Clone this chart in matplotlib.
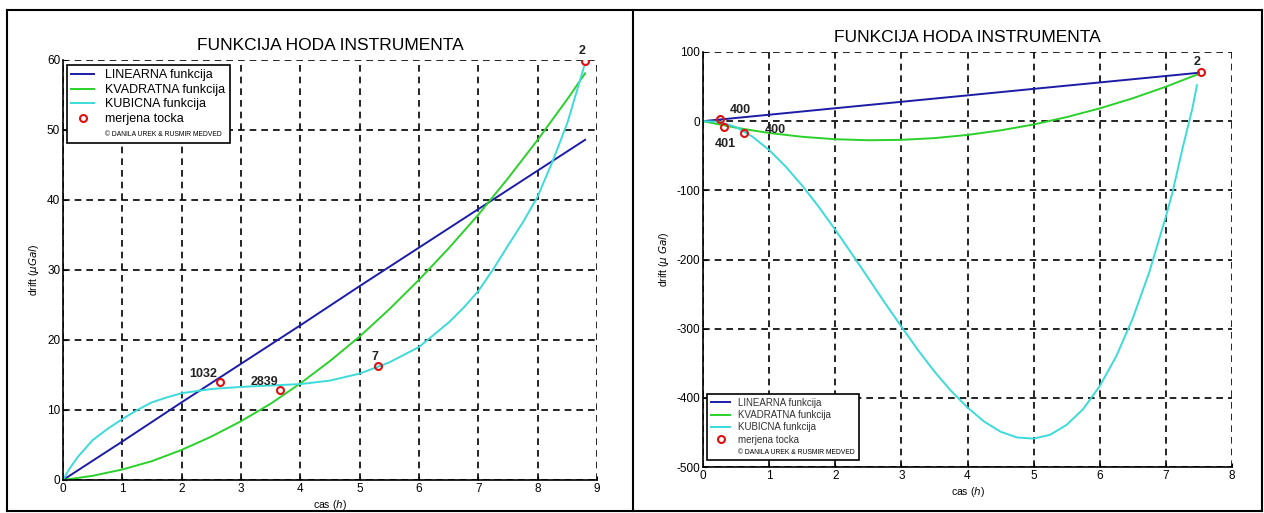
import numpy as np
import matplotlib
matplotlib.use('Agg')
import matplotlib.pyplot as plt
from matplotlib.lines import Line2D

plt.rcParams['font.family'] = ['Liberation Sans', 'DejaVu Sans']
plt.rcParams['axes.unicode_minus'] = False

# lijevi graf - podaci ocitani sa slike
lin1_t = [0, 1, 2, 3, 4, 5, 6, 7, 8, 8.8]
lin1_y = [0, 5.5, 11.1, 16.6, 22.1, 27.7, 33.2, 38.7, 44.2, 48.6]
kv1_t = [0, 0.5, 1, 1.5, 2, 2.5, 3, 3.5, 4, 4.5, 5, 5.5, 6, 6.5, 7, 7.5, 8, 8.5, 8.8]
kv1_y = [0, 0.6, 1.5, 2.7, 4.3, 6.2, 8.4, 10.9, 13.8, 17.0, 20.5, 24.4, 28.6, 33.1, 37.9, 43.1, 48.6, 54.4, 58.1]
kub1_t = [0, 0.1, 0.25, 0.5, 0.75, 1, 1.25, 1.5, 1.75, 2, 2.5, 3, 3.5, 4, 4.5, 5, 5.5, 6, 6.5, 6.75,
          7, 7.25, 7.5, 7.75, 8, 8.25, 8.5, 8.78]
kub1_y = [0, 1.5, 3.3, 5.7, 7.3, 8.7, 10.0, 11.1, 11.8, 12.4, 13.0, 13.3, 13.5, 13.7, 14.2, 15.2, 16.8, 19.0,
          22.5, 24.6, 27.0, 30.1, 33.5, 36.8, 40.5, 45.5, 51.0, 59.0]
tocke1_t = [2.64, 3.66, 5.31, 8.80]
tocke1_y = [13.95, 12.8, 16.3, 59.8]
oznake1 = ['1032', '2839', '7', '2']
oznake1_t = [2.36, 3.40, 5.25, 8.75]
oznake1_y = [15.2, 14.0, 17.6, 61.3]

# desni graf
lin2_t = [0, 1, 2, 3, 4, 5, 6, 7, 7.5]
lin2_y = [0, 9.3, 18.7, 28.0, 37.3, 46.7, 56.0, 65.3, 70.0]
kv2_t = [0, 0.5, 1, 1.5, 2, 2.5, 3, 3.5, 4, 4.5, 5, 5.5, 6, 6.5, 7, 7.5]
kv2_y = [0, -9.5, -17.1, -22.6, -26.1, -27.6, -27.0, -24.5, -19.9, -13.3, -4.8, 5.9, 18.5, 33.1, 49.8, 68.4]
kub2_t = [0, 0.25, 0.5, 0.75, 1, 1.25, 1.5, 1.75, 2, 2.25, 2.5, 2.75, 3, 3.25, 3.5, 3.75, 4, 4.25, 4.5,
          4.75, 5, 5.25, 5.5, 5.75, 6, 6.25, 6.5, 6.75, 7, 7.1, 7.25, 7.4, 7.47]
kub2_y = [0, -0.9, -8.6, -22.5, -41.7, -65.6, -93.2, -123.9, -157, -191.7, -227, -262.7, -297, -330.8,
          -362, -389.9, -414, -434.2, -449, -457.3, -459, -453.4, -439, -416.1, -383, -339.8, -285, -218,
          -138, -103, -40, 18, 52]
tocke2_t = [0.26, 0.32, 0.62, 7.53]
tocke2_y = [2.7, -8.9, -17.5, 71.6]
oznake2 = ['400', '401', '400', '2']
oznake2_t = [0.56, 0.34, 1.09, 7.47]
oznake2_y = [16, -33, -12.7, 86]

naslov = 'FUNKCIJA HODA INSTRUMENTA'
legenda = ['LINEARNA funkcija', 'KVADRATNA funkcija', 'KUBICNA funkcija', 'merjena tocka']
copyright_txt = '\u00a9 DANILA UREK & RUSMIR MEDVED'

plava = '#1c1ca6'
zelena = '#2bd12b'
cijan = '#3ddada'
crvena = '#dd1111'

fig = plt.figure(figsize=(12.64, 5.13), dpi=100)
ax1 = fig.add_axes([63/1264, 1-480/513, 534/1264, 420/513])
ax2 = fig.add_axes([703/1264, 1-467/513, 529/1264, 415/513])


def nacrtaj(ax, lt, ly, kt, ky, ct, cy, pt, py, lab, lab_t, lab_y, yfs):
    ax.plot(lt, ly, color=plava, lw=1.4)
    ax.plot(kt, ky, color=zelena, lw=1.4)
    ax.plot(ct, cy, color=cijan, lw=1.4)
    ax.plot(pt, py, 'o', mfc='none', mec=crvena, mew=1.5, ms=5)
    for s, x, y in zip(lab, lab_t, lab_y):
        ax.text(x, y, s, ha='center', va='center', fontsize=9, fontweight='bold', color='#222222')
    ax.grid(True, color='black', linestyle=(0, (4, 3)), lw=1.2)
    ax.set_axisbelow(True)
    for sp in ['top', 'right']:
        ax.spines[sp].set_visible(False)
    for sp in ['left', 'bottom']:
        ax.spines[sp].set_linewidth(1.2)
    ax.tick_params(direction='in', length=3, labelsize=8.5, pad=2)
    ax.set_title(naslov, fontsize=12.5, pad=7)
    ax.set_xlabel('cas ($h$)', fontsize=7.5, labelpad=2)
    ax.set_ylabel(yfs, fontsize=7.5, labelpad=4)


nacrtaj(ax1, lin1_t, lin1_y, kv1_t, kv1_y, kub1_t, kub1_y, tocke1_t, tocke1_y,
        oznake1, oznake1_t, oznake1_y, r'drift ($\mu Gal$)')
ax1.set_xlim(0, 9)
ax1.set_ylim(0, 60)
ax1.set_xticks(range(0, 10))
ax1.set_yticks(range(0, 61, 10))

nacrtaj(ax2, lin2_t, lin2_y, kv2_t, kv2_y, kub2_t, kub2_y, tocke2_t, tocke2_y,
        oznake2, oznake2_t, oznake2_y, r'drift ($\mu\ Gal$)')
ax2.set_xlim(0, 8)
ax2.set_ylim(-500, 100)
ax2.set_xticks(range(0, 9))
ax2.set_yticks(range(-500, 101, 100))

rucke = [Line2D([], [], color=plava, lw=1.4),
         Line2D([], [], color=zelena, lw=1.4),
         Line2D([], [], color=cijan, lw=1.4),
         Line2D([], [], ls='none', marker='o', mfc='none', mec=crvena, mew=1.5, ms=5),
         Line2D([], [], ls='none')]

leg1 = ax1.legend(rucke, legenda + [copyright_txt], loc='upper left',
                  bbox_to_anchor=(0.0075, 0.988), borderaxespad=0, fontsize=9,
                  labelspacing=0.2, handlelength=1.8, handletextpad=0.9,
                  fancybox=False, framealpha=1, edgecolor='black', borderpad=0.35)
leg1.get_frame().set_linewidth(1.2)
leg1.get_texts()[4].set_fontsize(4.9)

leg2 = ax2.legend(rucke, legenda + [copyright_txt], loc='lower left',
                  bbox_to_anchor=(0.0076, 0.017), borderaxespad=0, fontsize=7,
                  labelspacing=0.25, handlelength=2.0, handletextpad=0.8,
                  fancybox=False, framealpha=1, edgecolor='black', borderpad=0.4)
leg2.get_frame().set_linewidth(1.2)
leg2.get_texts()[4].set_fontsize(4.9)
for t in leg2.get_texts()[:4]:
    t.set_color('#333333')

# okvir oko oba grafa
x0, x1, xm = 7/1264, 1262/1264, 633/1264
y0, y1 = 1-511/513, 1-10/513
for xs, ys in [([x0, x1], [y1, y1]), ([x0, x1], [y0, y0]),
               ([x0, x0], [y0, y1]), ([x1, x1], [y0, y1]), ([xm, xm], [y0, y1])]:
    fig.add_artist(Line2D(xs, ys, color='black', lw=1.5, transform=fig.transFigure))

fig.savefig('out.png', dpi=100)
